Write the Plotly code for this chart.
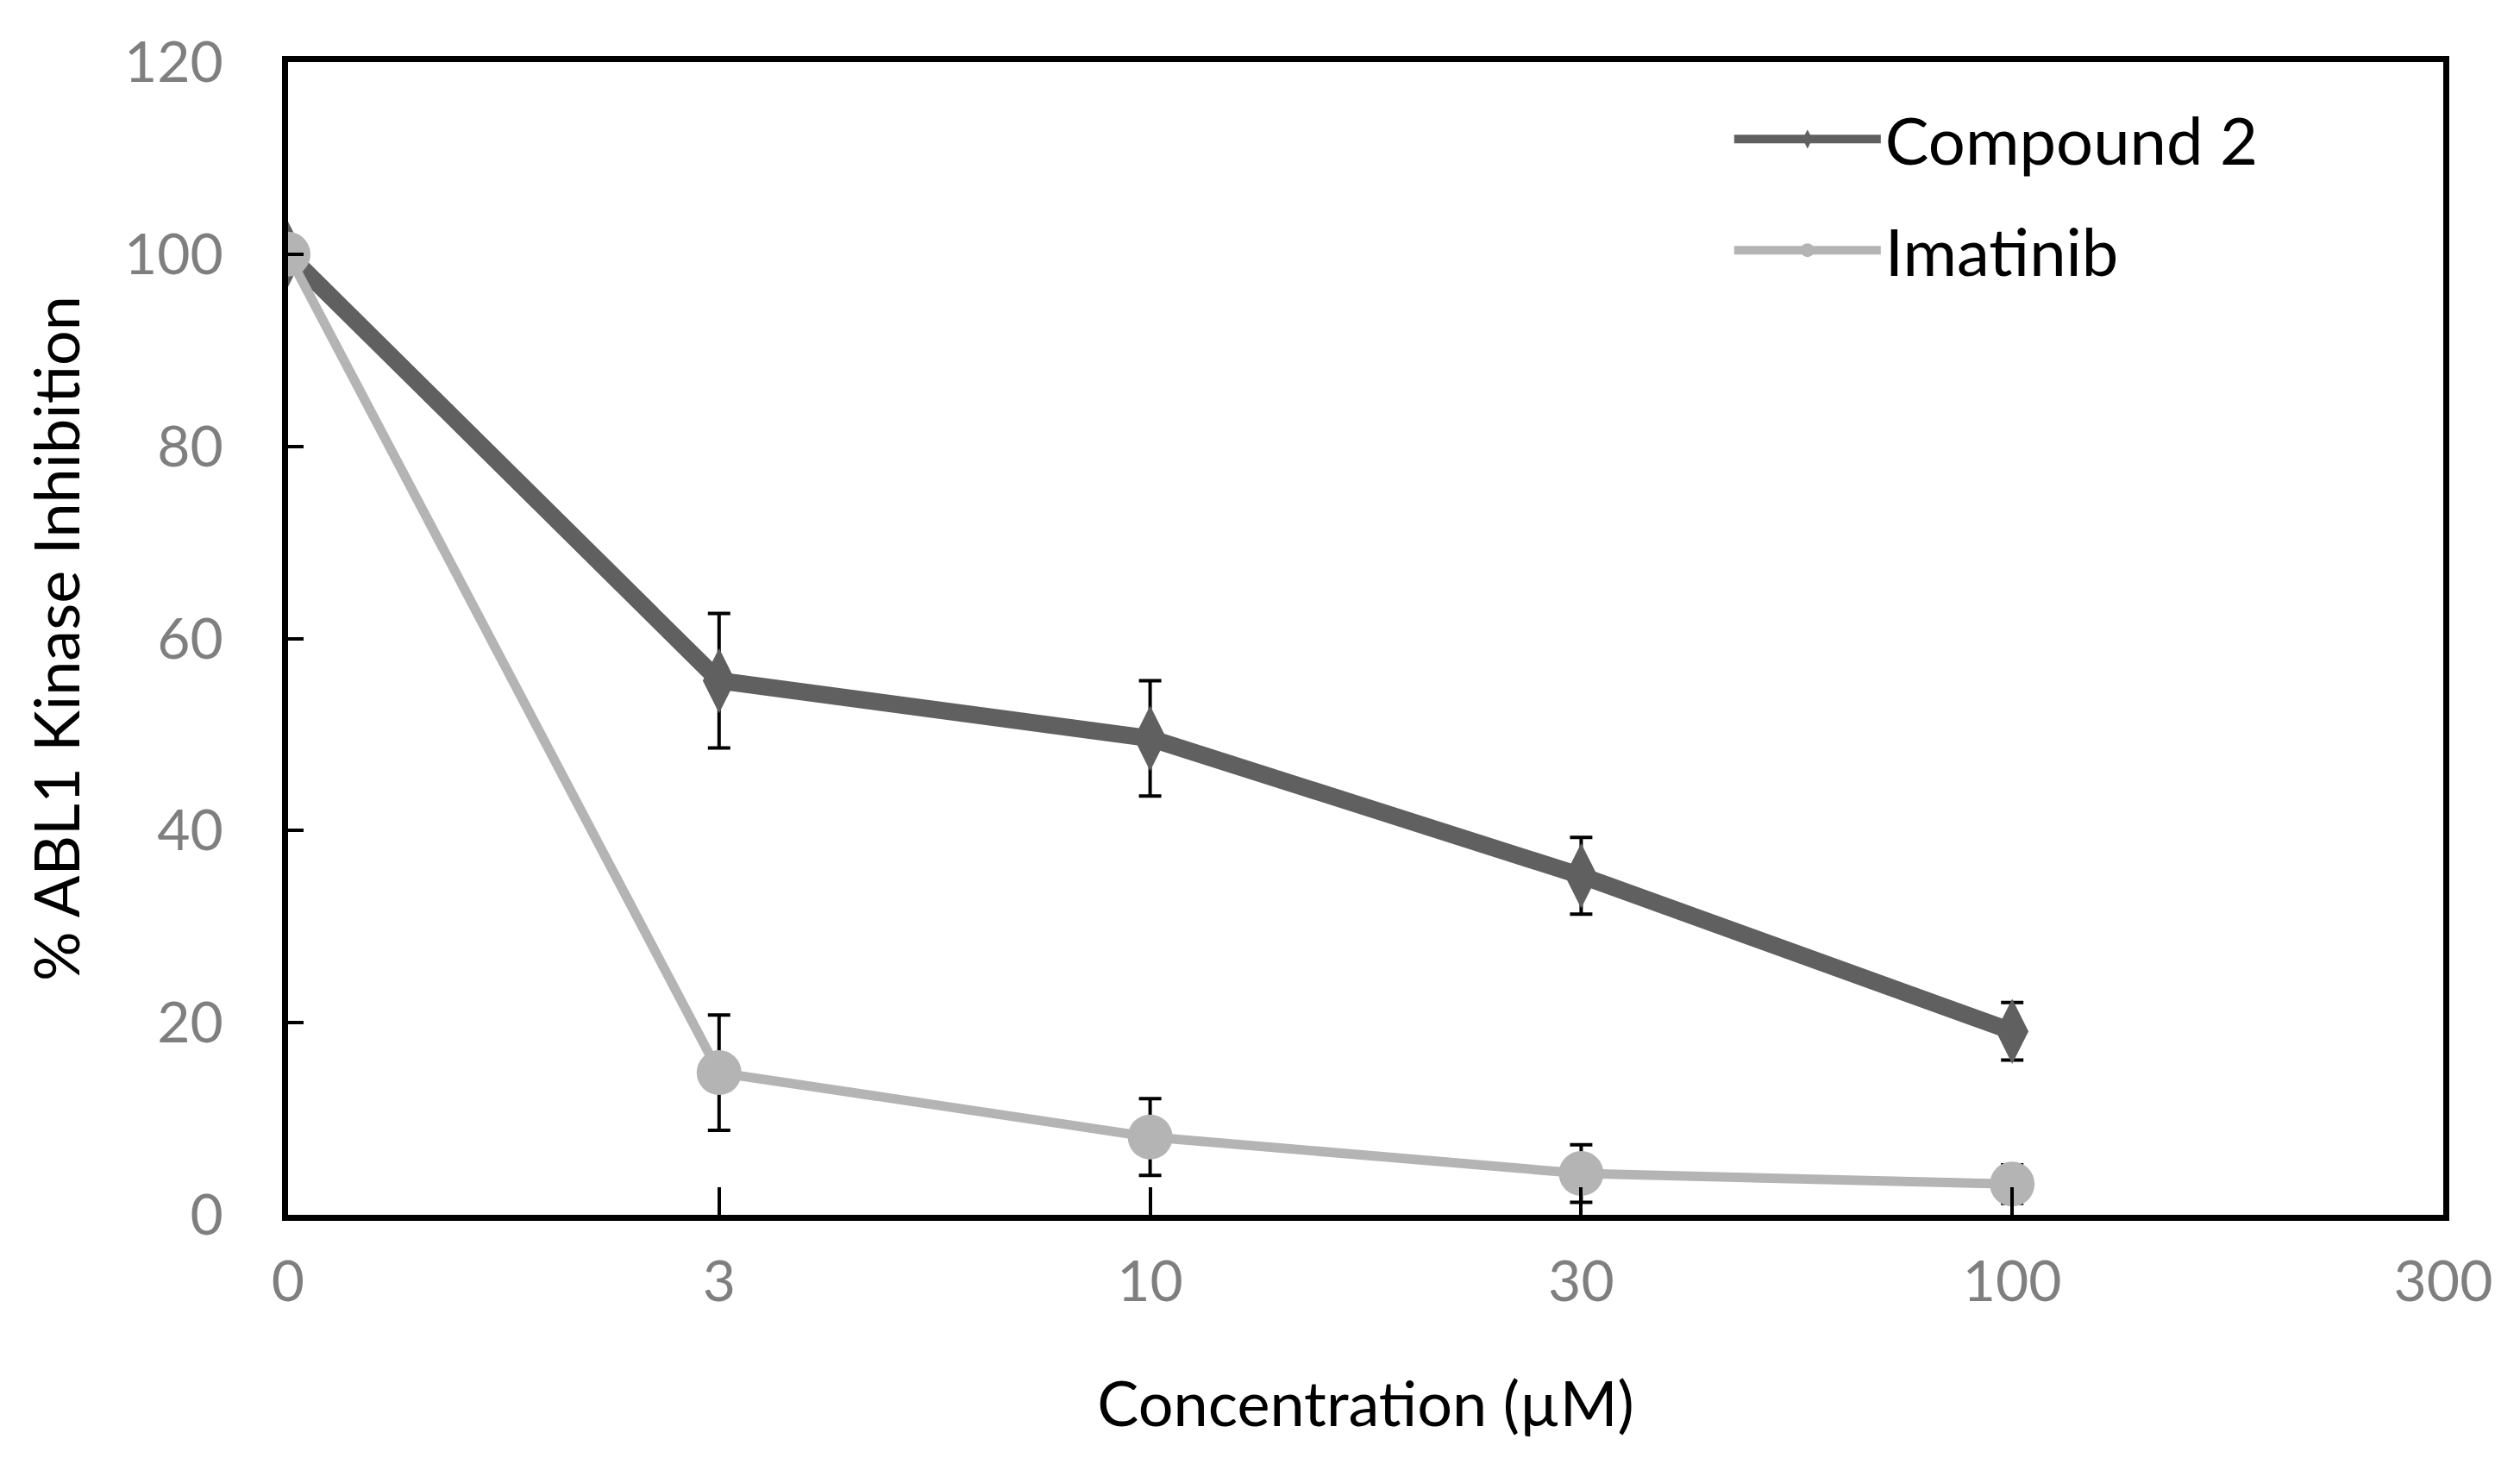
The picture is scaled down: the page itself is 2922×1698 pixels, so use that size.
import plotly.graph_objects as go

# concentrations (µM), plotted as evenly spaced categories
conc = ["0", "3", "10", "30", "100"]
axis_cats = ["0", "3", "10", "30", "100", "300"]

cmpd2 = [100, 55.6, 49.6, 35.3, 19.1]
cmpd2_err = [0, 7.0, 6.0, 4.0, 3.0]

imatinib = [100, 14.8, 8.1, 4.3, 3.2]
imatinib_err = [0, 6.0, 4.0, 3.0, 2.0]

font = "Lato"

fig = go.Figure()

fig.add_trace(go.Scatter(
    x=conc, y=cmpd2, name="Compound 2", mode="lines+markers",
    line=dict(color="#606060", width=20),
    marker=dict(symbol="diamond-tall", size=54, color="#606060"),
    error_y=dict(type="data", array=cmpd2_err, color="black", thickness=4, width=13),
    legendgroup="a",
))

fig.add_trace(go.Scatter(
    x=conc, y=imatinib, name="Imatinib", mode="lines+markers",
    line=dict(color="#b4b4b4", width=11),
    marker=dict(symbol="circle", size=52, color="#b4b4b4"),
    error_y=dict(type="data", array=imatinib_err, color="black", thickness=4, width=13),
    legendgroup="b",
))

fig.update_layout(
    width=2922, height=1698,
    margin=dict(l=326, r=97, t=64, b=297),
    paper_bgcolor="white", plot_bgcolor="white",
    font=dict(family=font, color="black"),
    showlegend=True,
    legend=dict(
        x=0.669, y=0.975, xanchor="left", yanchor="top",
        font=dict(size=76, color="black", family=font),
        itemwidth=170, traceorder="grouped", tracegroupgap=27,
        bgcolor="rgba(0,0,0,0)",
    ),
)

fig.update_xaxes(
    type="category", categoryorder="array", categoryarray=axis_cats,
    tickvals=axis_cats, ticktext=axis_cats,
    range=[0, 5],
    showline=True, linecolor="black", linewidth=7, mirror=True,
    ticks="inside", ticklen=32, tickwidth=4, tickcolor="black",
    tickfont=dict(size=66, color="#7f7f7f", family=font),
    ticklabelstandoff=14,
    showgrid=False, zeroline=False,
    title=dict(text="Concentration (µM)", font=dict(size=72, color="black", family=font), standoff=84),
)

fig.update_yaxes(
    range=[0, 120], tickvals=[0, 20, 40, 60, 80, 100, 120],
    showline=True, linecolor="black", linewidth=7, mirror=True,
    ticks="inside", ticklen=18, tickwidth=4, tickcolor="black",
    tickfont=dict(size=66, color="#7f7f7f", family=font),
    ticklabelstandoff=55,
    showgrid=False, zeroline=False,
    title=dict(text="% ABL1 Kinase Inhibition", font=dict(size=72, color="black", family=font), standoff=30),
)

fig.write_html("out.html")
